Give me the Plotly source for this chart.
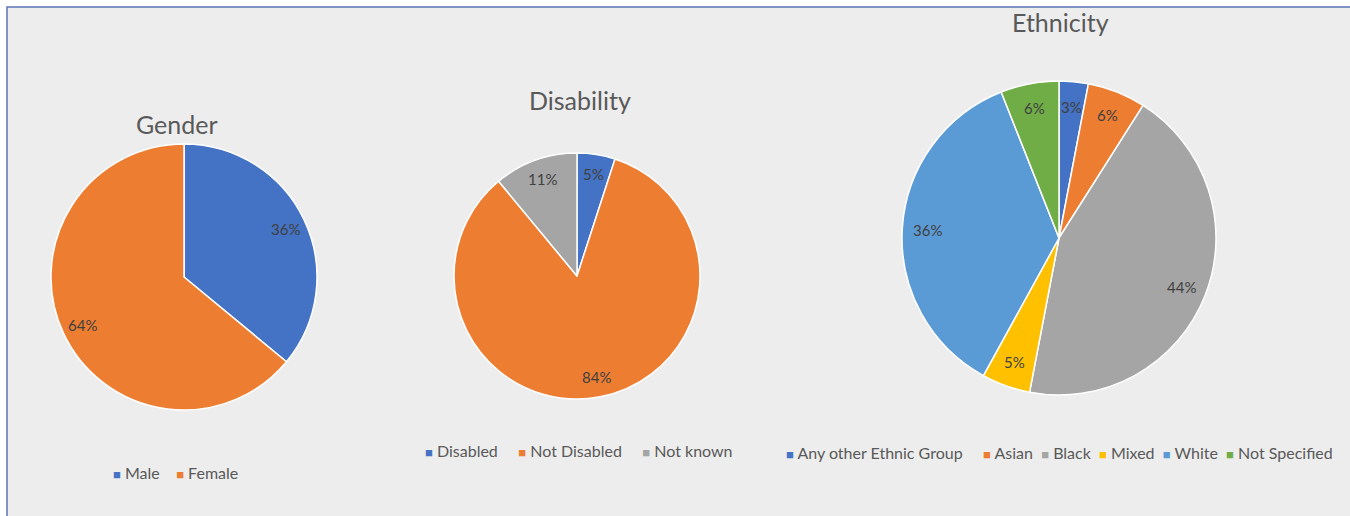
import math
import plotly.graph_objects as go

W, H = 1350, 516

gender_labels = ["Male", "Female"]
gender_values = [36, 64]

disability_labels = ["Disabled", "Not Disabled", "Not known"]
disability_values = [5, 84, 11]

ethnicity_labels = ["Any other Ethnic Group", "Asian", "Black", "Mixed", "White", "Not Specified"]
ethnicity_values = [3, 6, 44, 5, 36, 6]

gender_colors = ["#4472C4", "#ED7D31"]
disability_colors = ["#4472C4", "#ED7D31", "#A5A5A5"]
ethnicity_colors = ["#4472C4", "#ED7D31", "#A5A5A5", "#FFC000", "#5B9BD5", "#70AD47"]

FONT = "Lato, Open Sans, sans-serif"
TXT = "#595959"

# (title, labels, values, colors, centre x, centre y, radius, title x, title y, legend x, legend y, legend gaps)
charts = [
    ("Gender", gender_labels, gender_values, gender_colors, 184, 277, 133, 177, 124, 176, 472, [4]),
    ("Disability", disability_labels, disability_values, disability_colors, 577, 276, 123, 580, 100, 579, 450, [5, 5]),
    ("Ethnicity", ethnicity_labels, ethnicity_values, ethnicity_colors, 1059, 238, 157, 1060, 22, 1059, 452,
     [5, 2, 2, 2, 2]),
]

fig = go.Figure()
annotations = []
for title, labels, values, colors, cx, cy, r, tx, ty, lx, ly, gaps in charts:
    fig.add_trace(go.Pie(
        labels=labels, values=values, sort=False, direction="clockwise", rotation=0,
        marker=dict(colors=colors, line=dict(color="white", width=1.5)),
        textinfo="none", hoverinfo="label+percent", showlegend=False,
        domain=dict(x=[(cx - r) / W, (cx + r) / W], y=[1 - (cy + r) / H, 1 - (cy - r) / H]),
    ))
    # title
    annotations.append(dict(text=title, x=tx / W, y=1 - ty / H, xref="paper", yref="paper",
                            showarrow=False, xanchor="center", yanchor="middle",
                            font=dict(family=FONT, size=25, color=TXT)))
    # data labels placed near the outer edge of each slice (from the values)
    total = sum(values)
    cum = 0
    for v in values:
        a = 2 * math.pi * (cum + v / 2) / total
        cum += v
        px = cx + 0.84 * r * math.sin(a)
        py = cy - 0.84 * r * math.cos(a)
        annotations.append(dict(text=f"{round(100 * v / total)}%", x=px / W, y=1 - py / H,
                                xref="paper", yref="paper", showarrow=False,
                                xanchor="center", yanchor="middle",
                                font=dict(family=FONT, size=15, color="#404040")))
    # legend row
    parts = [f'<span style="color:{c};font-size:13px">■</span>\u00a0{lab}' for lab, c in zip(labels, colors)]
    text = parts[0]
    for g, p in zip(gaps, parts[1:]):
        text += "\u00a0" * g + p
    annotations.append(dict(text=text, x=lx / W, y=1 - ly / H, xref="paper", yref="paper",
                            showarrow=False, xanchor="center", yanchor="middle",
                            font=dict(family=FONT, size=16, color=TXT)))

fig.update_layout(
    width=W, height=H,
    margin=dict(l=0, r=0, t=0, b=0, autoexpand=False),
    paper_bgcolor="white",
    showlegend=False,
    annotations=annotations,
    shapes=[dict(type="rect", xref="paper", yref="paper", layer="below",
                 x0=7 / W, x1=1.01, y0=-0.01, y1=1 - 7 / H,
                 fillcolor="#EDEDED", line=dict(color="#5B74B5", width=1.5))],
)

fig.write_html("out.html")
